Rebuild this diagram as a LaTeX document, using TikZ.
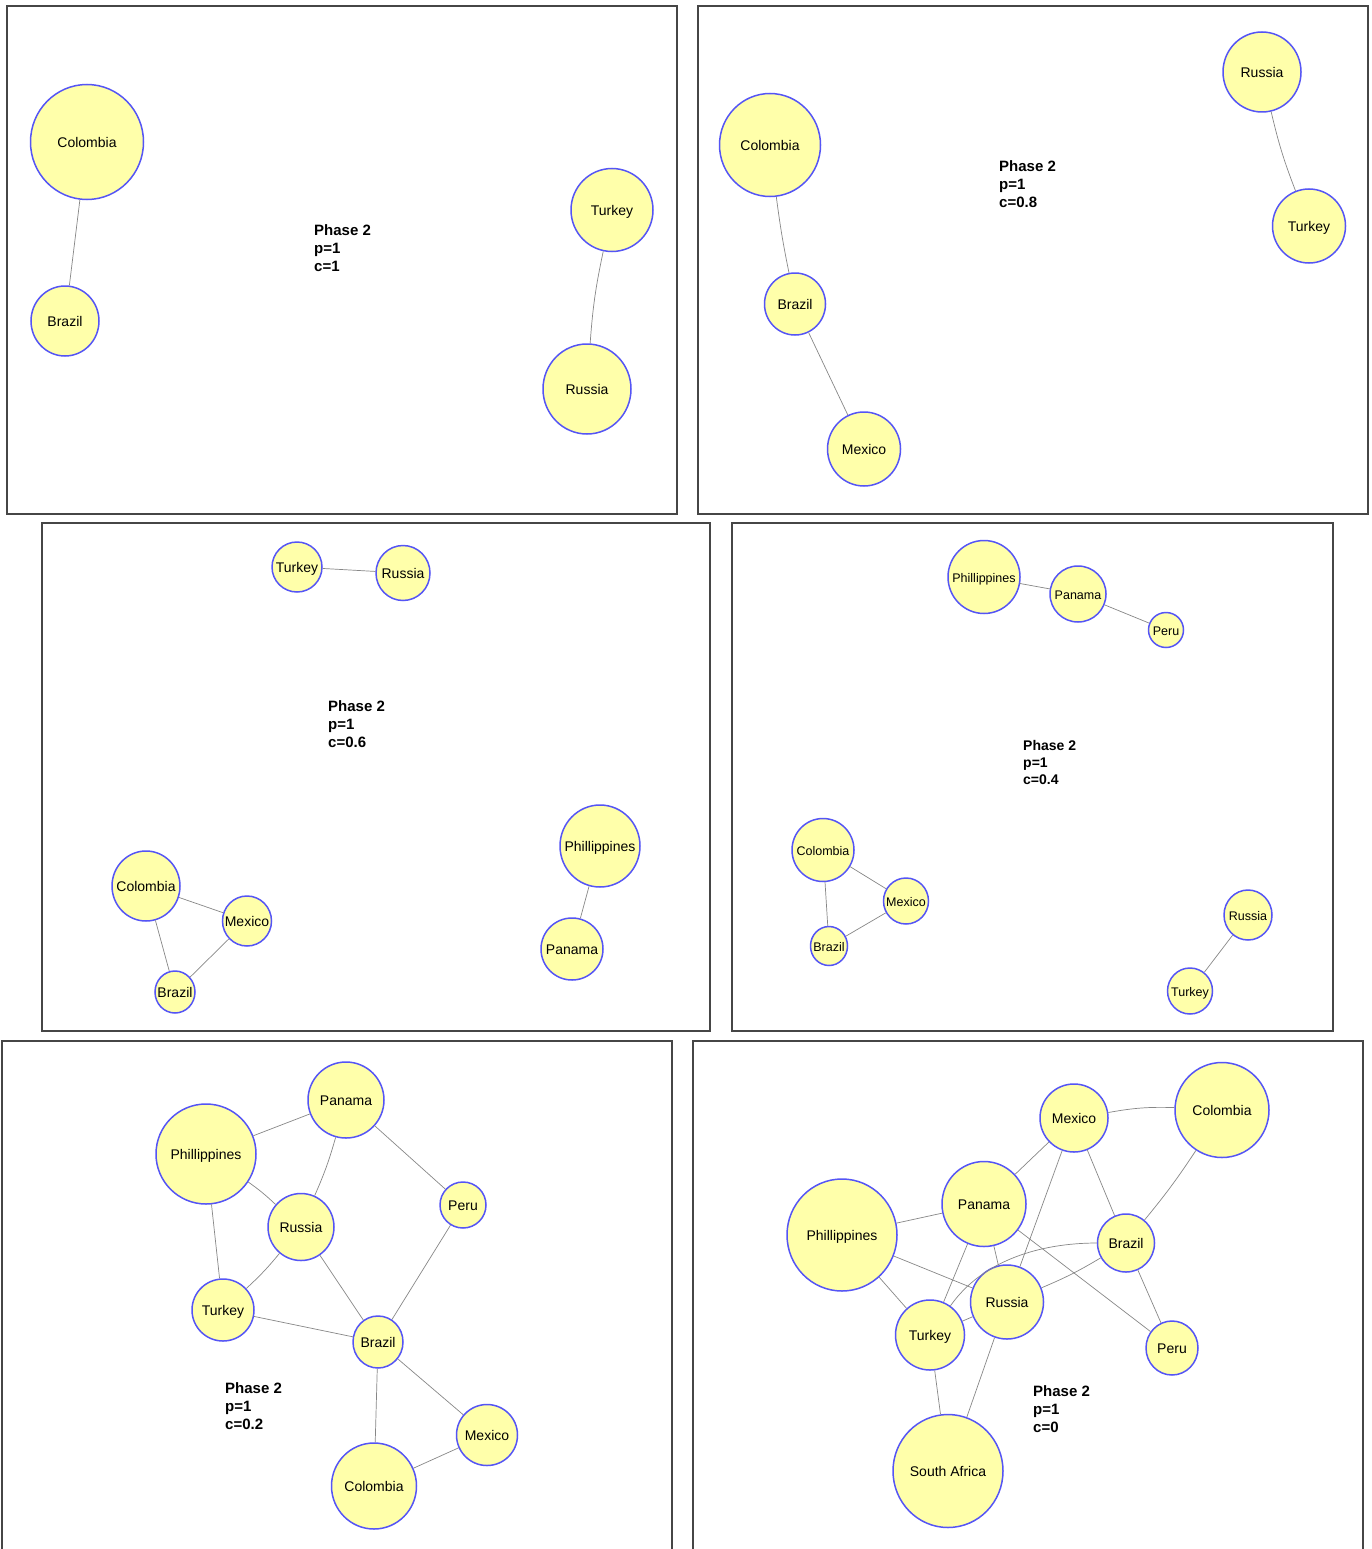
\documentclass[tikz,border=0pt]{standalone}
\usepackage{fontspec}
\setmainfont{Liberation Sans}
\usetikzlibrary{shapes.geometric}
\definecolor{nfill}{RGB}{255,255,170}
\definecolor{nedge}{RGB}{85,85,245}
\definecolor{lgray}{RGB}{135,135,135}
\definecolor{fgray}{RGB}{70,70,70}
\newcommand{\zb}[1]{\raisebox{-0.41em}[0pt][0pt]{\makebox[0pt][c]{#1}}}
\begin{document}
\begin{tikzpicture}[x=1pt,y=-1pt,
  nd/.style={ellipse, draw=nedge, fill=nfill, line width=1.5pt, inner sep=0pt, font=\fontsize{14}{16}\selectfont},
  ndsmall/.style={nd, font=\fontsize{12.5}{14}\selectfont},
  sz/.style 2 args={minimum width=#1pt, minimum height=#2pt},
  ed/.style={draw=lgray, line width=0.7pt},
  frame/.style={draw=fgray, line width=1.3pt},
  phase/.style={anchor=west, align=left, inner sep=0pt, font=\bfseries\fontsize{15}{18}\selectfont},
  phasesmall/.style={phase, font=\bfseries\fontsize{14}{17}\selectfont}]
\useasboundingbox (0,0) rectangle (1372,1549);
\fill[white] (0,0) rectangle (1372,1549);

% ---------- panel frames ----------
\draw[frame] (7,6) rectangle (677,514);
\draw[frame] (698,6) rectangle (1368,514);
\draw[frame] (42,523) rectangle (710,1031);
\draw[frame] (732,523) rectangle (1333,1031);
\draw[frame] (2,1549) -- (2,1041) -- (672,1041) -- (672,1549);
\draw[frame] (693,1549) -- (693,1041) -- (1363,1041) -- (1363,1549);

% ---------- panel 1 ----------
\node[nd, sz={113}{115}] (a1) at (87,142) {\zb{Colombia}};
\node[nd, sz={68}{70}] (a2) at (65,321) {\zb{Brazil}};
\node[nd, sz={82}{83}] (a3) at (612,210) {\zb{Turkey}};
\node[nd, sz={88}{90}] (a4) at (587,389) {\zb{Russia}};
\draw[ed] (a1) -- (a2);
\draw[ed] (a3) to[bend right=4] (a4);
\node[phase] (t1) at (314,248) {Phase 2\\p=1\\c=1};

% ---------- panel 2 ----------
\node[nd, sz={78}{80}] (b1) at (1262,72) {\zb{Russia}};
\node[nd, sz={73}{74}] (b2) at (1309,226) {\zb{Turkey}};
\node[nd, sz={101}{103}] (b3) at (770,145) {\zb{Colombia}};
\node[nd, sz={61}{62}] (b4) at (795,304) {\zb{Brazil}};
\node[nd, sz={73}{74}] (b5) at (864,449) {\zb{Mexico}};
\draw[ed] (b1) to[bend right=4] (b2);
\draw[ed] (b3) to[bend right=2] (b4);
\draw[ed] (b4) -- (b5);
\node[phase] (t2) at (999,184) {Phase 2\\p=1\\c=0.8};

% ---------- panel 3 ----------
\node[nd, sz={50}{50}] (c1) at (297,567) {\zb{Turkey}};
\node[nd, sz={54}{55}] (c2) at (403,573) {\zb{Russia}};
\node[nd, sz={68}{70}] (c3) at (146,886) {\zb{Colombia}};
\node[nd, sz={49}{50}] (c4) at (247,921) {\zb{Mexico}};
\node[nd, sz={40}{42}] (c5) at (175,992) {\zb{Brazil}};
\node[nd, sz={80}{82}] (c6) at (600,846) {\zb{Phillippines}};
\node[nd, sz={62}{62}] (c7) at (572,949) {\zb{Panama}};
\draw[ed] (c1) -- (c2);
\draw[ed] (c3) -- (c4);
\draw[ed] (c3) -- (c5);
\draw[ed] (c4) -- (c5);
\draw[ed] (c6) -- (c7);
\node[phase] (t3) at (328,724) {Phase 2\\p=1\\c=0.6};

% ---------- panel 4 ----------
\node[ndsmall, sz={72}{73}] (d1) at (984,577) {\zb{Phillippines}};
\node[ndsmall, sz={56}{56}] (d2) at (1078,594) {\zb{Panama}};
\node[ndsmall, sz={35}{35}] (d3) at (1166,630) {\zb{Peru}};
\node[ndsmall, sz={62}{63}] (d4) at (823,850) {\zb{Colombia}};
\node[ndsmall, sz={45}{46}] (d5) at (906,901) {\zb{Mexico}};
\node[ndsmall, sz={37}{39}] (d6) at (829,946) {\zb{Brazil}};
\node[ndsmall, sz={48}{50}] (d7) at (1248,915) {\zb{Russia}};
\node[ndsmall, sz={45}{46}] (d8) at (1190,991) {\zb{Turkey}};
\draw[ed] (d1) -- (d2);
\draw[ed] (d2) -- (d3);
\draw[ed] (d4) -- (d5);
\draw[ed] (d4) -- (d6);
\draw[ed] (d5) -- (d6);
\draw[ed] (d7) -- (d8);
\node[phasesmall] (t4) at (1023,762) {Phase 2\\p=1\\c=0.4};

% ---------- panel 5 ----------
\node[nd, sz={76}{76}] (e1) at (346,1100) {\zb{Panama}};
\node[nd, sz={100}{100}] (e2) at (206,1154) {\zb{Phillippines}};
\node[nd, sz={66}{67}] (e3) at (301,1227) {\zb{Russia}};
\node[nd, sz={46}{46}] (e4) at (463,1205) {\zb{Peru}};
\node[nd, sz={62}{62}] (e5) at (223,1310) {\zb{Turkey}};
\node[nd, sz={50}{52}] (e6) at (378,1342) {\zb{Brazil}};
\node[nd, sz={61}{61}] (e7) at (487,1435) {\zb{Mexico}};
\node[nd, sz={85}{86}] (e8) at (374,1486) {\zb{Colombia}};
\draw[ed] (e2) -- (e1);
\draw[ed] (e1) to[bend left=4] (e3);
\draw[ed] (e1) -- (e4);
\draw[ed] (e2) to[bend left=4] (e3);
\draw[ed] (e2) -- (e5);
\draw[ed] (e3) to[bend left=4] (e5);
\draw[ed] (e3) -- (e6);
\draw[ed] (e5) -- (e6);
\draw[ed] (e4) -- (e6);
\draw[ed] (e6) -- (e7);
\draw[ed] (e6) -- (e8);
\draw[ed] (e8) -- (e7);
\node[phase] (t5) at (225,1406) {Phase 2\\p=1\\c=0.2};

% ---------- panel 6 ----------
\node[nd, sz={68}{68}] (f1) at (1074,1118) {\zb{Mexico}};
\node[nd, sz={94}{95}] (f2) at (1222,1110) {\zb{Colombia}};
\node[nd, sz={84}{85}] (f3) at (984,1204) {\zb{Panama}};
\node[nd, sz={110}{112}] (f4) at (842,1235) {\zb{Phillippines}};
\node[nd, sz={57}{58}] (f5) at (1126,1243) {\zb{Brazil}};
\node[nd, sz={73}{74}] (f6) at (1007,1302) {\zb{Russia}};
\node[nd, sz={69}{70}] (f7) at (930,1335) {\zb{Turkey}};
\node[nd, sz={52}{54}] (f8) at (1172,1348) {\zb{Peru}};
\node[nd, sz={110}{113}] (f9) at (948,1471) {\zb{South Africa}};
\draw[ed] (f1) to[bend left=6] (f2);
\draw[ed] (f2) to[bend left=3] (f5);
\draw[ed] (f1) -- (f3);
\draw[ed] (f1) -- (f6);
\draw[ed] (f1) -- (f5);
\draw[ed] (f4) -- (f3);
\draw[ed] (f3) -- (f7);
\draw[ed] (f3) -- (f6);
\draw[ed] (f3) -- (f8);
\draw[ed] (f4) -- (f6);
\draw[ed] (f4) -- (f7);
\draw[ed] (f5) to[out=180,in=55,looseness=0.9] (f7);
\draw[ed] (f5) to[bend left=4] (f6);
\draw[ed] (f5) -- (f8);
\draw[ed] (f6) -- (f7);
\draw[ed] (f6) -- (f9);
\draw[ed] (f7) -- (f9);
\node[phase] (t6) at (1033,1409) {Phase 2\\p=1\\c=0};
\end{tikzpicture}
\end{document}
